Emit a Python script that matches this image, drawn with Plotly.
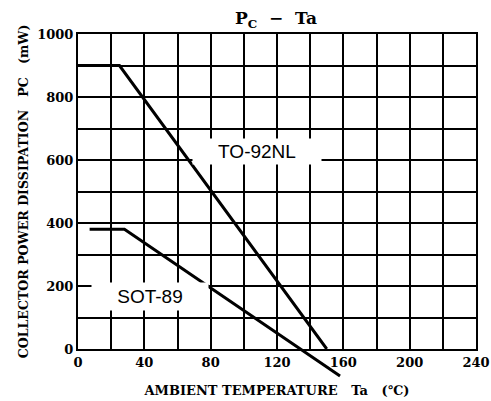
import plotly.graph_objects as go

# data
to92_x = [0, 25, 150]
to92_y = [900, 900, 0]
sot89_x = [7, 28, 158]
sot89_y = [380, 380, -86]

x_ticks = [0, 40, 80, 120, 160, 200, 240]
x_labels = ["0", "40", "80", "120", "160", "200", "240"]
y_ticks = [0, 200, 400, 600, 800, 1000]
y_labels = ["0", "200", "400", "600", "800", "1000"]

W, H = 491, 401
ml, mr, mt, mb = 78, 15, 34, 20
ph = H - mt - mb
d0 = 32 / ph
ext = 1000 * d0 / (1 - d0)

serif = "DejaVu Serif"
fig = go.Figure()
fig.add_trace(go.Scatter(x=to92_x, y=to92_y, mode="lines",
                         line=dict(color="black", width=3), xaxis="x", yaxis="y",
                         showlegend=False))
fig.add_trace(go.Scatter(x=sot89_x, y=sot89_y, mode="lines",
                         line=dict(color="black", width=3), xaxis="x2", yaxis="y2",
                         showlegend=False))

def axis_common(minor_dtick):
    return dict(showline=True, linecolor="black", linewidth=2, mirror=True,
                showgrid=True, gridcolor="black", gridwidth=2,
                minor=dict(dtick=minor_dtick, showgrid=True, gridcolor="black",
                           gridwidth=2, ticks=""),
                zeroline=False, ticks="", automargin=False,
                tickfont=dict(family=serif, size=13, color="black", weight="bold"))

fig.update_layout(
    width=W, height=H,
    margin=dict(l=ml, r=mr, t=mt, b=mb),
    paper_bgcolor="white", plot_bgcolor="rgba(0,0,0,0)",
    title=dict(text="P<sub>C</sub>  −  Ta", x=276 / W, xanchor="center",
               y=1 - 18 / H, yanchor="middle",
               font=dict(family=serif, size=17, color="black", weight="bold")),
    xaxis=dict(range=[0, 240], tickvals=x_ticks, ticktext=x_labels, anchor="y",
               domain=[0, 1],
               title=dict(text="AMBIENT TEMPERATURE\u00a0\u00a0\u00a0Ta\u00a0\u00a0\u00a0(℃)",
                          font=dict(family=serif, size=13, color="black", weight="bold"),
                          standoff=17),
               **axis_common(20)),
    yaxis=dict(range=[0, 1000], tickvals=y_ticks, ticktext=y_labels, anchor="x",
               domain=[d0, 1],
               title=dict(text="COLLECTOR POWER DISSIPATION\u00a0\u00a0\u00a0PC\u00a0\u00a0\u00a0(mW)",
                          font=dict(family=serif, size=12.6, color="black", weight="bold"),
                          standoff=6),
               **axis_common(100)),
    xaxis2=dict(range=[0, 240], domain=[0, 1], anchor="y2", visible=False),
    yaxis2=dict(range=[-ext, 1000], domain=[0, 1], anchor="x2", visible=False),
    annotations=[
        dict(x=108, y=627, xref="x", yref="y", text="TO-92NL", showarrow=False,
             font=dict(family="Liberation Sans", size=19, color="black"),
             bgcolor="white", width=126, height=23),
        dict(x=43.4, y=168, xref="x", yref="y", text="SOT-89", showarrow=False,
             font=dict(family="Liberation Sans", size=19, color="black"),
             bgcolor="white", width=114, height=25),
    ],
)

fig.write_html("out.html", config={"displayModeBar": False},
               post_script="document.body.style.margin='0';")
